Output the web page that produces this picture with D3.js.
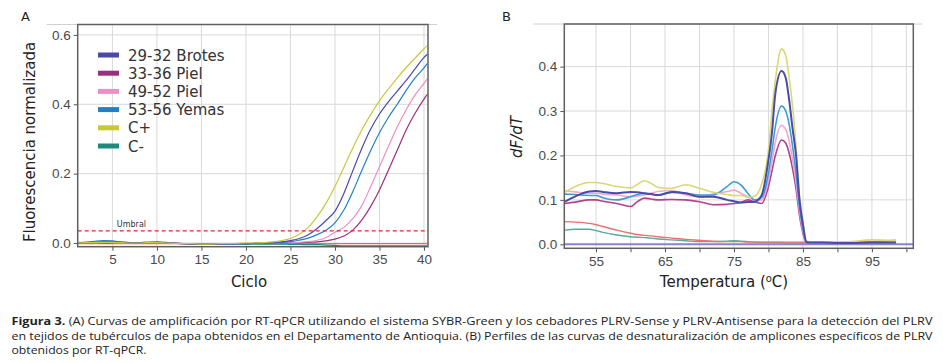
<!DOCTYPE html>
<html>
<head>
<meta charset="utf-8">
<script src="https://cdn.jsdelivr.net/npm/d3@7"></script>
<style>
  body { margin: 0; background: #fff; }
  svg { display: block; font-family: "DejaVu Sans", Verdana, sans-serif; }
  .grid line { stroke: #d9d9d9; stroke-width: 1; }
  .axis path { display: none; }
  .axis line { stroke: #555; }
  .axis text { fill: #4a4a4a; font-size: 13.5px; }
</style>
</head>
<body>
<div id="chart"></div>
<script>
// ---- panel A: amplification curves ----
const cycles = [1, 2, 3, 4, 5, 6, 7, 8, 9, 10, 11, 12, 13, 14, 15, 16, 17, 18, 19, 20,
  21, 22, 23, 24, 25, 26, 27, 28, 29, 30, 31, 32, 33, 34, 35, 36, 37, 38, 39, 40, 40.4];

const ampBrotes = [0.001, 0.002, 0.002, 0.003, 0.003, 0.002, 0.001, 0.001, 0.002, 0.002,
  0.001, 0, -0.002, -0.003, -0.004, -0.004, -0.003, -0.003, -0.002, -0.002,
  -0.001, 0, 0.001, 0.003, 0.007, 0.013, 0.024, 0.042, 0.065, 0.092,
  0.143, 0.208, 0.272, 0.328, 0.372, 0.407, 0.438, 0.469, 0.502, 0.535, 0.545];
const ampPiel33 = [0, 0, 0.001, 0.001, 0, 0, -0.001, 0, 0.001, 0.001,
  0, -0.001, -0.002, -0.003, -0.003, -0.003, -0.003, -0.002, -0.002, -0.002,
  -0.001, -0.001, 0, 0, 0.001, 0.001, 0.002, 0.003, 0.006, 0.011,
  0.02, 0.037, 0.066, 0.105, 0.153, 0.21, 0.268, 0.326, 0.374, 0.415, 0.429];
const ampPiel49 = [0, 0.001, 0.001, 0.002, 0.001, 0, 0, 0.001, 0.001, 0.001,
  0, -0.001, -0.002, -0.003, -0.003, -0.003, -0.002, -0.002, -0.002, -0.001,
  -0.001, 0, 0, 0.001, 0.001, 0.002, 0.004, 0.008, 0.016, 0.031,
  0.045, 0.07, 0.107, 0.162, 0.22, 0.278, 0.335, 0.384, 0.427, 0.46, 0.475];
const ampYemas = [0.001, 0.002, 0.005, 0.007, 0.006, 0.003, 0.001, 0.001, 0.002, 0.003,
  0.002, 0, -0.002, -0.003, -0.003, -0.004, -0.003, -0.003, -0.002, -0.002,
  -0.001, 0, 0, 0.002, 0.004, 0.008, 0.014, 0.024, 0.037, 0.058,
  0.095, 0.148, 0.208, 0.266, 0.318, 0.362, 0.4, 0.44, 0.476, 0.505, 0.518];
const ampCpos = [0, 0.001, 0.001, 0.002, 0.002, 0.001, 0, 0, 0.001, 0.001,
  0, -0.001, -0.002, -0.002, -0.003, -0.003, -0.002, -0.002, -0.001, 0,
  0, 0.001, 0.003, 0.007, 0.013, 0.025, 0.045, 0.076, 0.115, 0.163,
  0.218, 0.274, 0.325, 0.37, 0.41, 0.444, 0.476, 0.506, 0.533, 0.56, 0.57];
const ampCneg = [0.001, 0.001, 0.001, 0.002, 0.002, 0.001, 0.001, 0, 0, 0,
  0, -0.001, -0.002, -0.002, -0.003, -0.003, -0.003, -0.003, -0.003, -0.003,
  -0.003, -0.003, -0.003, -0.003, -0.004, -0.004, -0.005, -0.005, -0.006, -0.007,
  -0.008, -0.008, -0.008, -0.008, -0.008, -0.008, -0.008, -0.008, -0.008, -0.008, -0.008];
const ampExtra = cycles.map(() => -0.002); // flat red trace under the others
const umbral = 0.035;

// ---- panel B: melt curves ----
const temps = [50.5, 52, 54, 55, 56, 58, 60, 61, 62, 63, 64, 66, 68, 70, 72, 74, 75, 76, 77, 78,
  79, 80, 80.5, 81, 81.9, 82.5, 83, 83.5, 84, 84.5, 85, 85.5, 86, 88, 90, 92, 95, 98.5];

const meltCpos = [0.117, 0.13, 0.139, 0.139, 0.137, 0.13, 0.127, 0.135, 0.143, 0.137,
  0.128, 0.126, 0.134, 0.126, 0.117, 0.112, 0.11, 0.11, 0.106, 0.108,
  0.135, 0.212, 0.3, 0.37, 0.44, 0.425, 0.375, 0.31, 0.22, 0.11,
  0.05, 0.008, 0.005, 0.005, 0.005, 0.006, 0.01, 0.008];
const meltBrotes = [0.096, 0.108, 0.119, 0.12, 0.118, 0.115, 0.118, 0.117, 0.115, 0.113,
  0.111, 0.118, 0.115, 0.107, 0.107, 0.1, 0.097, 0.094, 0.095, 0.096,
  0.11, 0.19, 0.25, 0.34, 0.39, 0.375, 0.325, 0.26, 0.2, 0.1,
  0.045, 0.005, 0.004, 0.004, 0.003, 0.003, 0.004, 0.004];
const meltYemas = [0.113, 0.112, 0.11, 0.11, 0.105, 0.1, 0.107, 0.112, 0.115, 0.113,
  0.111, 0.117, 0.115, 0.111, 0.111, 0.13, 0.141, 0.134, 0.115, 0.1,
  0.105, 0.16, 0.21, 0.265, 0.311, 0.3, 0.27, 0.22, 0.16, 0.085,
  0.035, 0.005, 0.004, 0.004, 0.003, 0.003, 0.004, 0.004];
const meltPiel49 = [0.12, 0.118, 0.115, 0.115, 0.113, 0.111, 0.107, 0.109, 0.111, 0.115,
  0.119, 0.121, 0.111, 0.107, 0.113, 0.119, 0.122, 0.115, 0.107, 0.1,
  0.1, 0.145, 0.185, 0.23, 0.268, 0.258, 0.232, 0.19, 0.14, 0.075,
  0.03, 0.005, 0.004, 0.004, 0.003, 0.003, 0.004, 0.004];
const meltPiel33 = [0.092, 0.095, 0.1, 0.1, 0.097, 0.092, 0.085, 0.096, 0.104, 0.102,
  0.1, 0.101, 0.1, 0.096, 0.089, 0.09, 0.092, 0.094, 0.1, 0.096,
  0.092, 0.13, 0.165, 0.2, 0.235, 0.228, 0.205, 0.17, 0.125, 0.065,
  0.025, 0.004, 0.004, 0.004, 0.003, 0.003, 0.004, 0.004];
const meltExtra = [0.051, 0.05, 0.047, 0.044, 0.04, 0.032, 0.025, 0.022, 0.02, 0.019,
  0.017, 0.014, 0.011, 0.009, 0.007, 0.006, 0.006, 0.006, 0.005, 0.005,
  0.005, 0.005, 0.005, 0.005, 0.005, 0.005, 0.005, 0.005, 0.005, 0.005,
  0.005, 0.005, 0.005, 0.005, 0.005, 0.005, 0.006, 0.009];
const meltCneg = [0.032, 0.034, 0.034, 0.031, 0.027, 0.021, 0.017, 0.016, 0.015, 0.014,
  0.012, 0.01, 0.008, 0.006, 0.006, 0.007, 0.008, 0.007, 0.006, 0.005,
  0.004, 0.004, 0.004, 0.004, 0.004, 0.003, 0.003, 0.003, 0.003, 0.003,
  0.003, 0.003, 0.003, 0.003, 0.003, 0.003, 0.003, 0.003];

const legendNames = ["29-32 Brotes", "33-36 Piel", "49-52 Piel", "53-56 Yemas", "C+", "C-"];
const legendColors = ["#4b4ba6", "#9a2f80", "#ec8fc6", "#1f80cc", "#c8c83c", "#1f8a7c"];

const ticksA_x = [5, 10, 15, 20, 25, 30, 35, 40];
const ticksA_y = [0, 0.2, 0.4, 0.6];
const ticksB_x = [55, 60, 65, 70, 75, 80, 85, 90, 95, 100];
const ticksB_xLabels = [55, 65, 75, 85, 95];
const ticksB_y = [0, 0.1, 0.2, 0.3, 0.4];

const captionLines = [
  ["Figura 3.", " (A) Curvas de amplificación por RT-qPCR utilizando el sistema SYBR-Green y los cebadores PLRV-Sense y PLRV-Antisense para la detección del PLRV"],
  ["", "en tejidos de tubérculos de papa obtenidos en el Departamento de Antioquia. (B) Perfiles de las curvas de desnaturalización de amplicones específicos de PLRV"],
  ["", "obtenidos por RT-qPCR."]
];

const width = 943;
const height = 363;

const svg = d3.select("#chart").append("svg")
  .attr("width", width)
  .attr("height", height);

function panel(box, xs, ys, xTicks, xLabels, yTicks, clipId) {
  const g = svg.append("g");
  // faint top rule
  g.append("line")
    .attr("x1", box.left - 31).attr("x2", box.right + 9)
    .attr("y1", box.top).attr("y2", box.top)
    .attr("stroke", "#d0d0d0");
  g.append("g").attr("class", "grid")
    .selectAll("line").data(xTicks).enter().append("line")
    .attr("x1", (d) => xs(d)).attr("x2", (d) => xs(d))
    .attr("y1", box.top).attr("y2", box.bottom);
  g.append("g").attr("class", "grid")
    .selectAll("line").data(yTicks).enter().append("line")
    .attr("x1", box.left).attr("x2", box.right)
    .attr("y1", (d) => ys(d)).attr("y2", (d) => ys(d));

  g.append("g").attr("class", "axis")
    .attr("transform", `translate(0,${box.bottom})`)
    .call(d3.axisBottom(xs).tickValues(xTicks).tickSize(4).tickPadding(4)
      .tickFormat((d) => (xLabels.includes(d) ? d : "")));
  g.append("g").attr("class", "axis")
    .attr("transform", `translate(${box.left},0)`)
    .call(d3.axisLeft(ys).tickValues(yTicks).tickSize(4).tickPadding(3).tickFormat(d3.format(".1f")));

  svg.append("clipPath").attr("id", clipId).append("rect")
    .attr("x", box.left).attr("y", box.top)
    .attr("width", box.right - box.left).attr("height", box.bottom - box.top);
  return g;
}

function frame(g, box) {
  g.append("rect")
    .attr("x", box.left).attr("y", box.top)
    .attr("width", box.right - box.left).attr("height", box.bottom - box.top)
    .attr("fill", "none").attr("stroke", "#606060").attr("stroke-width", 1.5);
}

// ---------- A ----------
const boxA = { left: 77.7, right: 428, top: 24.5, bottom: 246.7 };
const xA = d3.scaleLinear().domain([1.1, 40.45]).range([boxA.left, boxA.right]);
const yA = d3.scaleLinear().domain([-0.0107, 0.63]).range([boxA.bottom, boxA.top]);
const gA = panel(boxA, xA, yA, ticksA_x, ticksA_x, ticksA_y, "clipA");

const lineA = d3.line()
  .x((d, i) => xA(cycles[i]))
  .y((d) => yA(d))
  .curve(d3.curveMonotoneX);

const seriesA = [
  { v: ampExtra, c: "#e86a6a" },
  { v: ampCneg, c: legendColors[5] },
  { v: ampPiel33, c: legendColors[1] },
  { v: ampPiel49, c: legendColors[2] },
  { v: ampYemas, c: legendColors[3] },
  { v: ampBrotes, c: legendColors[0] },
  { v: ampCpos, c: legendColors[4] }
];

const plotA = gA.append("g").attr("clip-path", "url(#clipA)");
plotA.selectAll(".ampline")
  .data(seriesA)
  .enter()
  .append("path")
  .attr("class", "ampline")
  .attr("fill", "none")
  .attr("stroke", (d) => d.c)
  .attr("stroke-width", 1.2)
  .attr("d", (d) => lineA(d.v));

plotA.append("line")
  .attr("x1", boxA.left).attr("x2", boxA.right)
  .attr("y1", yA(umbral)).attr("y2", yA(umbral))
  .attr("stroke", "#e0262b")
  .attr("stroke-width", 1.3)
  .attr("stroke-dasharray", "4,3");

gA.append("text")
  .attr("x", xA(5.5)).attr("y", yA(umbral) - 4)
  .attr("font-size", 8).attr("fill", "#333")
  .text("Umbral");

frame(gA, boxA);

// legend
const legend = gA.selectAll(".leg")
  .data(legendNames)
  .enter()
  .append("g")
  .attr("class", "leg")
  .attr("transform", (d, i) => `translate(98,${55 + i * 18.2})`);
legend.append("rect")
  .attr("x", 0).attr("y", -2.5)
  .attr("width", 21).attr("height", 5)
  .attr("fill", (d, i) => legendColors[i]);
legend.append("text")
  .attr("x", 30).attr("y", 5.5)
  .attr("font-size", 15).attr("fill", "#333")
  .text((d) => d);

svg.append("text")
  .attr("x", 21).attr("y", 21)
  .attr("font-size", 13).attr("fill", "#222")
  .text("A");
svg.append("text")
  .attr("transform", "translate(35,142) rotate(-90)")
  .attr("text-anchor", "middle")
  .attr("font-size", 15).attr("fill", "#222")
  .text("Fluorescencia normalizada");
svg.append("text")
  .attr("x", 249).attr("y", 287)
  .attr("text-anchor", "middle")
  .attr("font-size", 15).attr("fill", "#222")
  .text("Ciclo");

// ---------- B ----------
const boxB = { left: 564.3, right: 913.3, top: 24, bottom: 248.3 };
const xB = d3.scaleLinear().domain([50.4, 101]).range([boxB.left, boxB.right]);
const yB = d3.scaleLinear().domain([-0.009, 0.496]).range([boxB.bottom, boxB.top]);
const gB = panel(boxB, xB, yB, ticksB_x, ticksB_xLabels, ticksB_y, "clipB");

const lineB = d3.line()
  .x((d, i) => xB(temps[i]))
  .y((d) => yB(d))
  .curve(d3.curveMonotoneX);

const seriesB = [
  { v: meltCneg, c: "#5aaaa2", w: 1.4 },
  { v: meltExtra, c: "#ea6f6a", w: 1.4 },
  { v: meltPiel33, c: "#b5408f", w: 1.6 },
  { v: meltPiel49, c: "#f2a6d2", w: 1.6 },
  { v: meltYemas, c: "#3a9ed6", w: 1.6 },
  { v: meltCpos, c: "#d9d872", w: 1.6 },
  { v: meltBrotes, c: "#4a4aa8", w: 2 }
];

const plotB = gB.append("g").attr("clip-path", "url(#clipB)");
plotB.append("line")
  .attr("x1", boxB.left).attr("x2", boxB.right)
  .attr("y1", yB(0)).attr("y2", yB(0))
  .attr("stroke", "#8b82d6")
  .attr("stroke-width", 2);
plotB.selectAll(".meltline")
  .data(seriesB)
  .enter()
  .append("path")
  .attr("class", "meltline")
  .attr("fill", "none")
  .attr("stroke", (d) => d.c)
  .attr("stroke-width", (d) => d.w)
  .attr("d", (d) => lineB(d.v));

frame(gB, boxB);

svg.append("text")
  .attr("x", 502).attr("y", 21)
  .attr("font-size", 13).attr("fill", "#222")
  .text("B");
svg.append("text")
  .attr("transform", "translate(522,137) rotate(-90)")
  .attr("text-anchor", "middle")
  .attr("font-size", 15).attr("font-style", "italic").attr("fill", "#222")
  .text("dF/dT");
const xTitle = svg.append("text")
  .attr("x", 724).attr("y", 287)
  .attr("text-anchor", "middle")
  .attr("font-size", 15).attr("fill", "#222");
xTitle.append("tspan").text("Temperatura  (");
xTitle.append("tspan").attr("dy", -5).attr("font-size", 10).text("o");
xTitle.append("tspan").attr("dy", 5).text("C)");

// ---------- caption ----------
const cap = svg.append("g")
  .attr("font-family", "'Open Sans', 'DejaVu Sans', sans-serif")
  .attr("font-size", 10.6)
  .attr("fill", "#222");
cap.selectAll("text")
  .data(captionLines)
  .enter()
  .append("text")
  .attr("x", 11.5)
  .attr("y", (d, i) => 325 + i * 14.5)
  .each(function (d, i) {
    const t = d3.select(this);
    if (d[0]) t.append("tspan").attr("font-weight", "bold").text(d[0]);
    t.append("tspan").text(d[1]);
    if (i < 2) t.attr("textLength", 921).attr("lengthAdjust", "spacingAndGlyphs");
    else t.attr("textLength", 135).attr("lengthAdjust", "spacingAndGlyphs");
  });
</script>
</body>
</html>
